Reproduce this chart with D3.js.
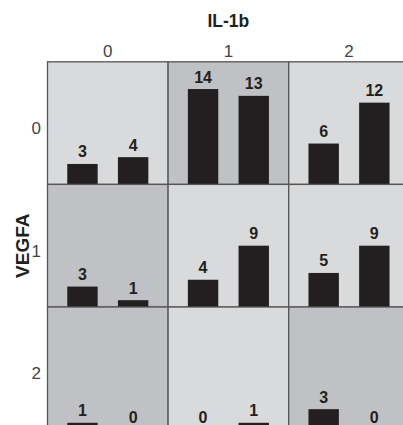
<!DOCTYPE html>
<html>
<head>
<meta charset="utf-8">
<script src="https://cdn.jsdelivr.net/npm/d3@7"></script>
<style>
  html, body { margin: 0; padding: 0; background: #fff; }
  svg { display: block; font-family: "Liberation Sans", Arial, sans-serif; }
</style>
</head>
<body>
<svg id="chart" width="403" height="425"></svg>
<script>
// ---- data ----
const colCategories = ["0", "1", "2"];   // IL-1b
const rowCategories = ["0", "1", "2"];   // VEGFA
const seriesNames = ["A", "B"];
// values[row][col] = [series A, series B]
const row0Values = [[3, 4], [14, 13], [6, 12]];
const row1Values = [[3, 1], [4, 9], [5, 9]];
const row2Values = [[1, 0], [0, 1], [3, 0]];
const cellValues = [row0Values, row1Values, row2Values];
// shading: 1 = darker cell
const row0Shade = [0, 1, 0];
const row1Shade = [1, 0, 0];
const row2Shade = [1, 0, 1];
const cellShade = [row0Shade, row1Shade, row2Shade];
const colTitle = "IL-1b";
const rowTitle = "VEGFA";

// ---- layout ----
const svg = d3.select("#chart");
const gridLeft = 47.5, gridTop = 61.8, cellW = 120.6, cellH = 122.6;

const x = d3.scaleBand().domain(colCategories).range([gridLeft, gridLeft + cellW * 3]);
const y = d3.scaleBand().domain(rowCategories).range([gridTop, gridTop + cellH * 3]);
const xs = d3.scaleBand().domain(seriesNames).range([0, cellW]).paddingInner(0.4).paddingOuter(0.39);
const v = d3.scaleLinear().domain([0, 18]).range([cellH, 0]);

const cells = [];
rowCategories.forEach((r, ri) => colCategories.forEach((c, ci) => {
  cells.push({ r, c, vals: cellValues[ri][ci], shade: cellShade[ri][ci] });
}));

const g = svg.selectAll("g.cell").data(cells).join("g")
  .attr("class", "cell")
  .attr("transform", d => `translate(${x(d.c)},${y(d.r)})`);

g.append("rect")
  .attr("width", x.bandwidth()).attr("height", y.bandwidth())
  .attr("fill", d => d.shade ? "#c0c1c4" : "#d9dadc")
  .attr("stroke", "#555").attr("stroke-width", 1.3);

g.selectAll("rect.bar").data(d => d.vals.map((val, i) => ({ s: seriesNames[i], val })))
  .join("rect").attr("class", "bar")
  .attr("x", d => xs(d.s)).attr("width", xs.bandwidth())
  .attr("y", d => v(d.val)).attr("height", d => cellH - v(d.val))
  .attr("fill", "#231f20");

g.selectAll("text.lbl").data(d => d.vals.map((val, i) => ({ s: seriesNames[i], val })))
  .join("text").attr("class", "lbl")
  .attr("x", d => xs(d.s) + xs.bandwidth() / 2)
  .attr("y", d => v(d.val) - 6.5)
  .attr("text-anchor", "middle")
  .attr("font-size", 16).attr("font-weight", "bold").attr("fill", "#231f20")
  .text(d => d.val);

// column labels (top axis)
svg.selectAll("text.colcat").data(colCategories).join("text").attr("class", "colcat")
  .attr("x", d => x(d) + x.bandwidth() / 2).attr("y", 57)
  .attr("text-anchor", "middle").attr("font-size", 17).attr("fill", "#444")
  .text(d => d);

// row labels (left axis)
svg.selectAll("text.rowcat").data(rowCategories).join("text").attr("class", "rowcat")
  .attr("x", 41).attr("y", d => y(d) + y.bandwidth() / 2 + 11)
  .attr("text-anchor", "end").attr("font-size", 17).attr("fill", "#444")
  .text(d => d);

svg.append("text")
  .attr("x", gridLeft + cellW * 1.5).attr("y", 27.3)
  .attr("text-anchor", "middle").attr("font-size", 17.5).attr("font-weight", "bold").attr("fill", "#231f20")
  .text(colTitle);

svg.append("text")
  .attr("transform", `translate(28.5,${y("1") + y.bandwidth() / 2}) rotate(-90)`)
  .attr("text-anchor", "middle").attr("font-size", 19).attr("font-weight", "bold").attr("fill", "#231f20")
  .text(rowTitle);
</script>
</body>
</html>
